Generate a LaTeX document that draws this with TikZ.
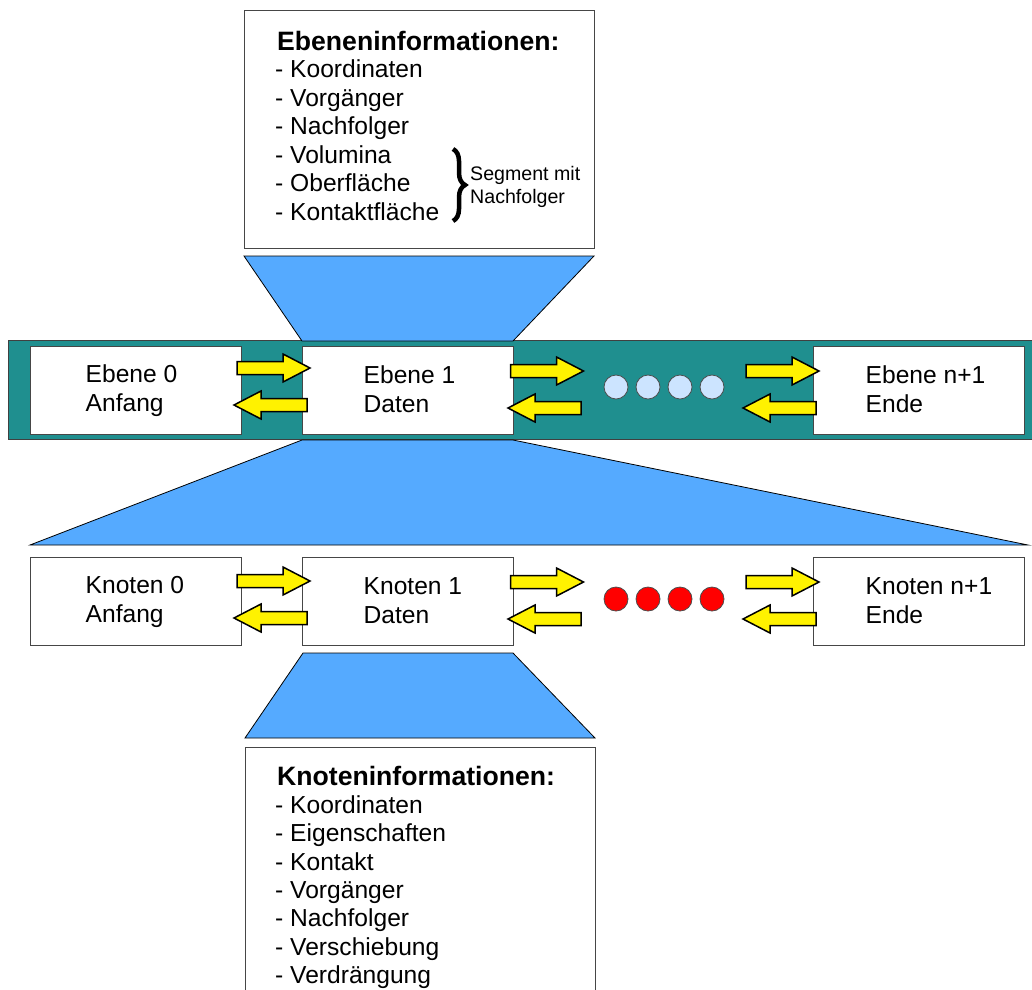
\documentclass[tikz,border=0pt]{standalone}
\usepackage{fontspec}
\setmainfont{Liberation Sans}
\usetikzlibrary{decorations.pathreplacing}

\definecolor{bandteal}{RGB}{31,143,143}
\definecolor{funnelblue}{RGB}{85,170,255}
\definecolor{dotblue}{RGB}{204,228,255}
\definecolor{framegray}{RGB}{70,70,70}

% struts that fix the two baselines of a cell label around its centre
\newcommand\celltop{\rule{0pt}{20pt}}
\newcommand\cellbot{\rule[-5pt]{0pt}{5pt}}

\tikzset{
  cell/.style={draw=framegray, line width=1pt, fill=white,
    minimum width=211pt, minimum height=88pt, inner sep=0pt},
  celltext/.style={anchor=west, align=left, inner sep=0pt,
    font=\fontsize{24.6}{29}\selectfont},
  infobox/.style={draw=framegray, line width=1pt, fill=white, inner sep=0pt},
  funnel/.style={fill=funnelblue, draw=black, line width=0.8pt},
  flowarrow/.style={fill=yellow, draw=black, line width=1.5pt, line join=miter},
  dot/.style={circle, draw=black!70, line width=0.8pt, minimum size=24pt, inner sep=0pt},
  infotext/.style={anchor=base west, inner sep=0pt, font=\fontsize{24.6}{29}\selectfont},
  infotitle/.style={anchor=base west, inner sep=0pt, font=\fontsize{26.6}{29}\selectfont\bfseries},
  notetext/.style={anchor=base west, inner sep=0pt, font=\fontsize{19.6}{23}\selectfont},
  rarr/.pic={\draw[flowarrow] (-36.5,-6.5) -- (9.5,-6.5) -- (9.5,-14) -- (36.5,0)
      -- (9.5,14) -- (9.5,6.5) -- (-36.5,6.5) -- cycle;}
}

\begin{document}
\begin{tikzpicture}[x=1pt,y=-1pt]
\useasboundingbox (0,0) rectangle (1032,989);

% level band
\draw[fill=bandteal, draw=black!75, line width=1pt] (8,340) rectangle (1040,439);

% funnels
\draw[funnel] (244,256) -- (594,256) -- (513,341) -- (302,341) -- cycle;
\draw[funnel] (302,440) -- (513,440) -- (1028,545) -- (30,545) -- cycle;
\draw[funnel] (303,653) -- (513,653) -- (595,738) -- (245,738) -- cycle;

% level information box
\node[infobox, minimum width=350pt, minimum height=238pt] (einfo) at (419,129) {};
\node[infotitle] (etitle) at (277,50.5) {Ebeneninformationen:};
\foreach \t [count=\i] in {Koordinaten,Vorgänger,Nachfolger,Volumina,Oberfläche,Kontaktfläche}
  \node[infotext] (eitem\i) at (275,{77.5+28.5*(\i-1)}) {- \t};
\draw[decorate, decoration={brace, amplitude=12pt}, line width=4.5pt] (453,149) -- (453,221);
\node[notetext] (seg1) at (470,180) {Segment mit};
\node[notetext] (seg2) at (470,203) {Nachfolger};

% level list
\node[cell] (e0) at (135.5,390) {};
\node[cell] (e1) at (407.5,390) {};
\node[cell] (en) at (918.5,390) {};
\node[celltext, xshift=56pt] (e0t) at (e0.west) {\celltop Ebene 0\\Anfang\cellbot};
\node[celltext, xshift=62pt] (e1t) at (e1.west) {\celltop Ebene 1\\Daten\cellbot};
\node[celltext, xshift=53pt] (ent) at (en.west) {\celltop Ebene n+1\\Ende\cellbot};
\pic at (273.5,368) {rarr};
\pic[rotate=180] at (270.5,405) {rarr};
\pic at (547,371) {rarr};
\pic[rotate=180] at (544.5,408) {rarr};
\pic at (782.5,371) {rarr};
\pic[rotate=180] at (779.5,408) {rarr};
\foreach \x [count=\i] in {616,648,680,712}
  \node[dot, fill=dotblue] (ed\i) at (\x,387) {};

% node list
\node[cell] (k0) at (135.5,601) {};
\node[cell] (k1) at (407.5,601) {};
\node[cell] (kn) at (918.5,601) {};
\node[celltext, xshift=56pt] (k0t) at (k0.west) {\celltop Knoten 0\\Anfang\cellbot};
\node[celltext, xshift=62pt] (k1t) at (k1.west) {\celltop Knoten 1\\Daten\cellbot};
\node[celltext, xshift=53pt] (knt) at (kn.west) {\celltop Knoten n+1\\Ende\cellbot};
\pic at (273.5,581) {rarr};
\pic[rotate=180] at (270.5,618) {rarr};
\pic at (547,582) {rarr};
\pic[rotate=180] at (544.5,619) {rarr};
\pic at (782.5,582) {rarr};
\pic[rotate=180] at (779.5,619) {rarr};
\foreach \x [count=\i] in {616,648,680,712}
  \node[dot, fill=red] (kd\i) at (\x,599) {};

% node information box
\node[infobox, minimum width=350pt, minimum height=270pt] (kinfo) at (420,882) {};
\node[infotitle] (ktitle) at (277,785) {Knoteninformationen:};
\foreach \t [count=\i] in {Koordinaten,Eigenschaften,Kontakt,Vorgänger,Nachfolger,Verschiebung,Verdrängung}
  \node[infotext] (kitem\i) at (275,{813.3+28.4*(\i-1)}) {- \t};
\end{tikzpicture}
\end{document}
